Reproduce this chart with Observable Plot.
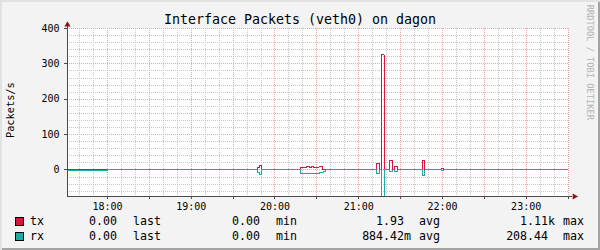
<!DOCTYPE html>
<html><head><meta charset="utf-8">
<script src="https://cdn.jsdelivr.net/npm/d3@7"></script>
<script src="https://cdn.jsdelivr.net/npm/@observablehq/plot@0.6"></script>
<style>
body{margin:0;background:#fff}
#card{position:relative;width:600px;height:250px;background:#f3f3f3;font-family:"DejaVu Sans Mono",monospace;overflow:hidden;
 box-shadow: inset 2px 2px 0 #e2e2e2, inset -2px -2px 0 #a3a3a3;}
#card svg{position:absolute;left:0;top:0}
.t{position:absolute;white-space:pre;color:#000;line-height:1}
.sq{position:absolute;width:9px;height:9px;box-sizing:border-box;border:1px solid #000}
</style></head>
<body><div id="card"></div>
<script>
// ---- data ----
const titleText = "Interface Packets (veth0) on dagon";
const yLabel = "Packets/s";
const watermark = "RRDTOOL / TOBI OETIKER";
const hourLabels = ["18:00","19:00","20:00","21:00","22:00","23:00"];
const yTicks = [0,100,200,300,400];

const txTimes = ["17:31:20","18:00:00","19:47:20","19:49:00","19:50:20","20:18:20","20:22:20","20:24:50","20:26:00","20:27:30","20:29:30","20:31:30","20:34:20","21:12:50","21:15:00","21:16:25","21:18:10","21:22:05","21:24:20","21:25:40","21:27:55","21:45:50","21:47:15","21:59:25","22:00:50","23:30:20"];
const txValues = [2.5,0,7,14,0,8,10,8,10,8,8,8.5,0,17,0,326,0,26,0,11,0,28,0,3,0,0];

const rxTimes = ["17:31:20","18:00:00","19:47:20","19:49:00","19:50:20","20:18:20","20:20:30","20:23:00","20:25:00","20:28:00","20:30:30","20:32:00","20:33:30","20:35:00","20:36:20","21:12:50","21:15:00","21:16:25","21:18:10","21:22:05","21:24:20","21:25:40","21:27:55","21:45:50","21:47:15","21:59:25","22:00:50","23:30:20"];
const rxValues = [0.5,0,7,13,0,9,10,9,10,9,10,8,6,3,0,9,0,150,0,5,0,3,0,17,0,1,0,0];

const seriesNames = ["tx","rx"];
const seriesColors = ["#d7163d","#20aaa2"];
const statNames = ["last","min","avg","max"];
const txStats = ["0.00 ","0.00 ","1.93 ","1.11k"];
const rxStats = ["0.00 ","0.00 ","884.42m","208.44 "];

// ---- build ----
const T = s => new Date("2024-01-01T" + s + "Z");
const xStart = T("17:31:20"), xEnd = T("23:30:20");
const tx = txTimes.map((t,i)=>({t:T(t), v:txValues[i]}));
const rx = rxTimes.map((t,i)=>({t:T(t), v:-rxValues[i]}));

const minorX = d3.utcMinute.every(10).range(xStart, new Date(+xEnd+1)).filter(d=>d.getUTCMinutes()%30!==0);
const majorX = d3.utcMinute.every(30).range(xStart, new Date(+xEnd+1));
const minorY = d3.range(-60, 400, 20).filter(v=>v%100!==0);

const axisColor = "#4a4a4a", arrowColor = "#8e1414";
const crisp = {shapeRendering:"crispEdges"};

const chart = Plot.plot({
  width:600, height:215,
  marginLeft:67, marginRight:32, marginTop:28, marginBottom:19,
  x:{type:"utc", domain:[xStart,xEnd], label:null},
  y:{domain:[-75,400], label:null},
  style:{background:"transparent", fontFamily:"DejaVu Sans Mono", fontSize:"10px", color:"#000", overflow:"visible"},
  marks:[
    Plot.frame({fill:"#fff", stroke:"none"}),
    Plot.ruleY(minorY, {stroke:"#c6c6c6", strokeDasharray:"1,1", ...crisp}),
    Plot.ruleX(minorX, {stroke:"#c6c6c6", strokeDasharray:"1,1", ...crisp}),
    Plot.ruleY(yTicks, {stroke:"#eea3a3", strokeDasharray:"1,1", ...crisp}),
    Plot.ruleX(majorX, {stroke:"#eea3a3", strokeDasharray:"1,1", ...crisp}),
    Plot.line(tx, {x:"t", y:"v", curve:"step-after", stroke:seriesColors[0], strokeWidth:1, clip:true, ...crisp}),
    Plot.line(rx, {x:"t", y:"v", curve:"step-after", stroke:seriesColors[1], strokeWidth:1, clip:true, ...crisp}),
    Plot.ruleX([xStart], {stroke:axisColor, insetTop:-3, ...crisp}),
    Plot.ruleY([-75], {stroke:axisColor, insetRight:-4, ...crisp}),
    Plot.axisX(majorX, {tickSize:3, text:null, stroke:axisColor, ...crisp}),
    Plot.axisX(hourLabels.map(T), {tickSize:0, tickPadding:6, tickFormat:d3.utcFormat("%H:%M"), fill:"#000"}),
    Plot.axisY(yTicks, {tickSize:3, tickPadding:5, fill:"#000", stroke:axisColor, ...crisp}),
    Plot.dot([{t:xStart, v:400}], {x:"t", y:"v", symbol:"triangle", r:2.3, fill:arrowColor, stroke:"none", dy:-3.7}),
    Plot.dot([{t:xEnd, v:-75}], {x:"t", y:"v", symbol:"triangle", r:2.3, fill:arrowColor, stroke:"none", rotate:90, dx:6})
  ]
});
const card = document.getElementById("card");
card.appendChild(chart);

function addText(txt, css){
  const d = document.createElement("div");
  d.className = "t"; d.textContent = txt;
  Object.assign(d.style, css);
  card.appendChild(d);
  return d;
}
// title
addText(titleText, {left:"0px", width:"600px", textAlign:"center", top:"12.7px", fontSize:"13.3px"});
// y label
addText(yLabel, {left:"-50px", width:"120px", textAlign:"center", top:"105px", fontSize:"10.3px", height:"10.3px", transform:"rotate(-90deg)"});
// watermark
addText(watermark, {left:"530px", width:"120px", textAlign:"center", top:"58px", fontSize:"8.7px", height:"8.7px", color:"#b2b2b2", transform:"rotate(90deg)"});

// legend
const valueRight = [124, 267, 411, 555];
const nameLeft = [133, 276, 419, 563];
const rowsTop = [216.2, 230.9];
[txStats, rxStats].forEach((stats, r)=>{
  const sq = document.createElement("div");
  sq.className = "sq";
  Object.assign(sq.style, {left:"15px", top:(217 + r*15)+"px", background:seriesColors[r]});
  card.appendChild(sq);
  addText(seriesNames[r], {left:"30px", top:rowsTop[r]+"px", fontSize:"11.6px"});
  stats.forEach((s,i)=>{
    addText(s, {right:(600-valueRight[i])+"px", top:rowsTop[r]+"px", fontSize:"11.6px", textAlign:"right"});
    addText(statNames[i], {left:nameLeft[i]+"px", top:rowsTop[r]+"px", fontSize:"11.6px"});
  });
});
</script>
</body></html>
